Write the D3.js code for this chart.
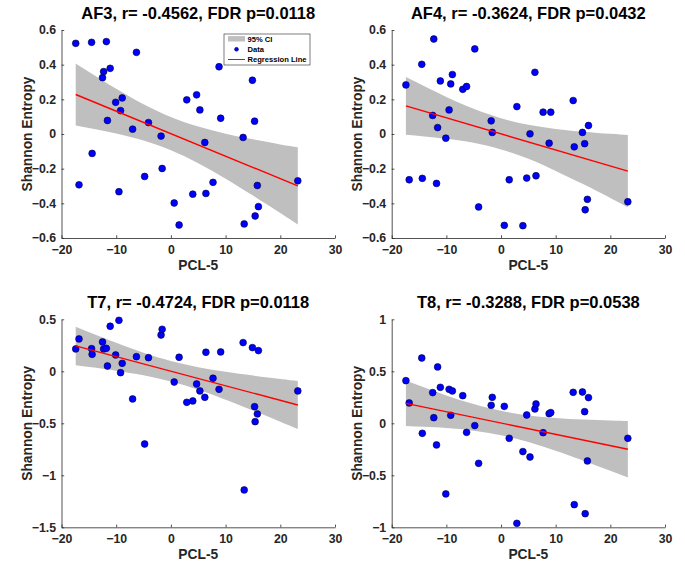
<!DOCTYPE html>
<html><head><meta charset="utf-8">
<script src="https://cdn.jsdelivr.net/npm/d3@7"></script>
<style>
body{margin:0;background:#fff}
text{font-family:"Liberation Sans",Arial,Helvetica,sans-serif;font-weight:bold}
</style>
</head><body>
<svg id="c" width="685" height="567"></svg>
<script>
// ---- data ----
const pcl5 = [-17.4,-16.8,-14.5,-14.4,-12.5,-12.3,-11.8,-11.6,-11.1,-10.1,-9.5,-9.2,-8.9,-7.0,-6.3,-4.8,-4.1,-1.8,-1.6,0.6,1.5,2.9,4.0,4.7,5.3,6.2,6.4,7.7,8.8,9.1,13.2,13.4,14.9,15.3,15.4,16.0,15.8,23.2];
const af3 = [0.523,-0.293,0.529,-0.112,0.325,0.36,0.533,0.078,0.379,0.183,-0.333,0.135,0.208,0.028,0.471,-0.245,0.066,-0.012,-0.199,-0.398,-0.525,0.197,-0.347,0.226,0.139,-0.049,-0.343,-0.279,0.388,0.091,-0.02,-0.519,0.31,0.074,-0.473,-0.419,-0.297,-0.27];
const af4 = [0.283,-0.264,0.402,-0.256,0.107,0.548,-0.285,0.037,0.306,-0.024,0.139,0.289,0.343,0.258,0.274,0.491,-0.421,0.076,0.009,-0.527,-0.264,0.158,-0.529,-0.254,0.001,0.356,-0.241,0.126,-0.053,0.126,0.193,-0.074,0.009,-0.056,-0.437,0.049,-0.377,-0.391];
const t7 = [0.215,0.311,0.218,0.163,0.282,0.215,0.221,0.051,0.433,0.157,0.49,-0.013,0.077,-0.266,0.141,-0.699,0.131,0.349,0.404,-0.103,0.135,-0.298,-0.285,-0.122,-0.189,-0.25,0.183,-0.067,-0.173,0.186,0.276,-1.141,0.228,-0.34,-0.484,0.199,-0.41,-0.189];
const t8 = [0.41,0.196,0.628,-0.096,0.295,0.054,-0.208,0.542,0.346,-0.679,0.327,0.077,0.311,0.266,-0.087,-0.022,-0.385,0.173,0.25,0.163,-0.144,-0.962,-0.272,0.08,-0.324,0.138,0.186,-0.09,0.093,0.103,0.298,-0.782,0.301,0.112,-0.869,0.247,-0.362,-0.144];

// regression line endpoints and 95% CI band
const fitX = [-17.4, 23.2];
const af3Fit = [0.228, -0.299];
const af4Fit = [0.162, -0.214];
const t7Fit = [0.244, -0.324];
const t8Fit = [0.192, -0.250];
const bandX = [-17.4,-14,-10,-5,0,5,10,15,20,23.2];
const af3Upper = [0.407,0.339,0.261,0.172,0.098,0.043,0.002,-0.031,-0.060,-0.076];
const af3Lower = [0.049,0.029,0.003,-0.038,-0.094,-0.169,-0.258,-0.355,-0.456,-0.522];
const af4Upper = [0.329,0.276,0.214,0.145,0.091,0.053,0.029,0.013,0.001,-0.006];
const af4Lower = [-0.005,-0.014,-0.028,-0.051,-0.089,-0.143,-0.213,-0.289,-0.369,-0.422];
const t7Upper = [0.429,0.356,0.274,0.179,0.100,0.040,-0.005,-0.041,-0.074,-0.093];
const t7Lower = [0.059,0.036,0.006,-0.039,-0.099,-0.178,-0.273,-0.377,-0.484,-0.555];
const t8Upper = [0.410,0.344,0.268,0.185,0.120,0.076,0.052,0.036,0.027,0.022];
const t8Lower = [-0.026,-0.034,-0.046,-0.071,-0.114,-0.180,-0.264,-0.358,-0.457,-0.522];

const titles = ["AF3, r= -0.4562, FDR p=0.0118","AF4, r= -0.3624, FDR p=0.0432","T7, r= -0.4724, FDR p=0.0118","T8, r= -0.3288, FDR p=0.0538"];
const xTicks = [-20,-10,0,10,20,30];
const yTicksAF = [-0.6,-0.4,-0.2,0,0.2,0.4,0.6];
const yTicksT7 = [-1.5,-1,-0.5,0,0.5];
const yTicksT8 = [-1,-0.5,0,0.5,1];
const xLabel = "PCL-5";
const yLabel = "Shannon Entropy";
const legendLabels = ["95% CI","Data","Regression Line"];

// ---- layout ----
const panels = [
  {y:af3, fit:af3Fit, up:af3Upper, lo:af3Lower, yd:[-0.6,0.6], yt:yTicksAF, x0:61.5, x1:335, top:30, bot:238, legend:true},
  {y:af4, fit:af4Fit, up:af4Upper, lo:af4Lower, yd:[-0.6,0.6], yt:yTicksAF, x0:391.7, x1:665, top:30, bot:238},
  {y:t7, fit:t7Fit, up:t7Upper, lo:t7Lower, yd:[-1.5,0.5], yt:yTicksT7, x0:61.5, x1:335, top:319.3, bot:527.3},
  {y:t8, fit:t8Fit, up:t8Upper, lo:t8Lower, yd:[-1,1], yt:yTicksT8, x0:391.7, x1:665, top:319.3, bot:527.3}
];
const svg = d3.select("#c");
const axCol = "#262626";
const fmt = d => d3.format("")(+d.toFixed(2));

panels.forEach((p,i) => {
  const x = d3.scaleLinear().domain([-20,30]).range([p.x0,p.x1]);
  const y = d3.scaleLinear().domain(p.yd).range([p.bot,p.top]);
  const g = svg.append("g");

  const band = bandX.map((v,k)=>({x:v, u:p.up[k], l:p.lo[k]}));
  g.append("path").datum(band)
    .attr("d", d3.area().x(d=>x(d.x)).y0(d=>y(d.l)).y1(d=>y(d.u)).curve(d3.curveNatural))
    .attr("fill","#bfbfbf").attr("stroke","none");

  g.selectAll("circle.pt").data(pcl5.map((v,k)=>({x:v,y:p.y[k]}))).join("circle")
    .attr("cx",d=>x(d.x)).attr("cy",d=>y(d.y)).attr("r",3.4)
    .attr("fill","#0000ff").attr("stroke","#000033").attr("stroke-width",0.6);

  g.append("path").datum(fitX.map((v,k)=>({x:v,y:p.fit[k]})))
    .attr("d", d3.line().x(d=>x(d.x)).y(d=>y(d.y)))
    .attr("stroke","#ff0000").attr("stroke-width",1.4).attr("fill","none");

  const xa = g.append("g").attr("transform",`translate(0,${p.bot})`)
    .call(d3.axisBottom(x).tickValues(xTicks).tickFormat(d3.format("d")).tickSizeInner(-2.7).tickSizeOuter(0).tickPadding(7));
  const ya = g.append("g").attr("transform",`translate(${p.x0},0)`)
    .call(d3.axisLeft(y).tickValues(p.yt).tickFormat(fmt).tickSizeInner(-2.7).tickSizeOuter(0).tickPadding(5.5));
  [xa,ya].forEach(a=>{
    a.select(".domain").attr("stroke",axCol).attr("stroke-width",0.8);
    a.selectAll(".tick line").attr("stroke",axCol).attr("stroke-width",0.8);
    a.selectAll(".tick text").attr("fill",axCol).style("font-size","12.3px").style("font-weight","bold")
      .style("font-family",'"Liberation Sans",Arial,Helvetica,sans-serif');
  });

  const cx = (p.x0+p.x1)/2, cy = (p.top+p.bot)/2;
  g.append("text").attr("x",cx).attr("y",p.top-11).attr("text-anchor","middle")
    .style("font-size","16.5px").attr("fill","#000").text(titles[i]);
  g.append("text").attr("x",cx).attr("y",p.bot+32).attr("text-anchor","middle")
    .style("font-size","13.8px").attr("fill",axCol).text(xLabel);
  g.append("text").attr("transform",`translate(${p.x0-29.5},${cy}) rotate(-90)`).attr("text-anchor","middle")
    .style("font-size","13.8px").attr("fill",axCol).text(yLabel);

  if (p.legend) {
    const lg = g.append("g");
    lg.append("rect").attr("x",224).attr("y",34).attr("width",86).attr("height",31)
      .attr("fill","#fff").attr("stroke",axCol).attr("stroke-width",0.6);
    const rows = [38.8,49.3,59.5];
    lg.append("rect").attr("x",228).attr("y",rows[0]-2.7).attr("width",17).attr("height",5.4).attr("fill","#bfbfbf");
    lg.append("circle").attr("cx",236.5).attr("cy",rows[1]).attr("r",2).attr("fill","#0000ff").attr("stroke","#000033").attr("stroke-width",0.4);
    lg.append("line").attr("x1",228).attr("x2",245).attr("y1",rows[2]).attr("y2",rows[2]).attr("stroke","#ff0000").attr("stroke-width",1);
    legendLabels.forEach((t,k)=>{
      lg.append("text").attr("x",247.5).attr("y",rows[k]+2.8).style("font-size","7.6px").attr("fill","#000").text(t);
    });
  }
});
</script>
</body></html>
